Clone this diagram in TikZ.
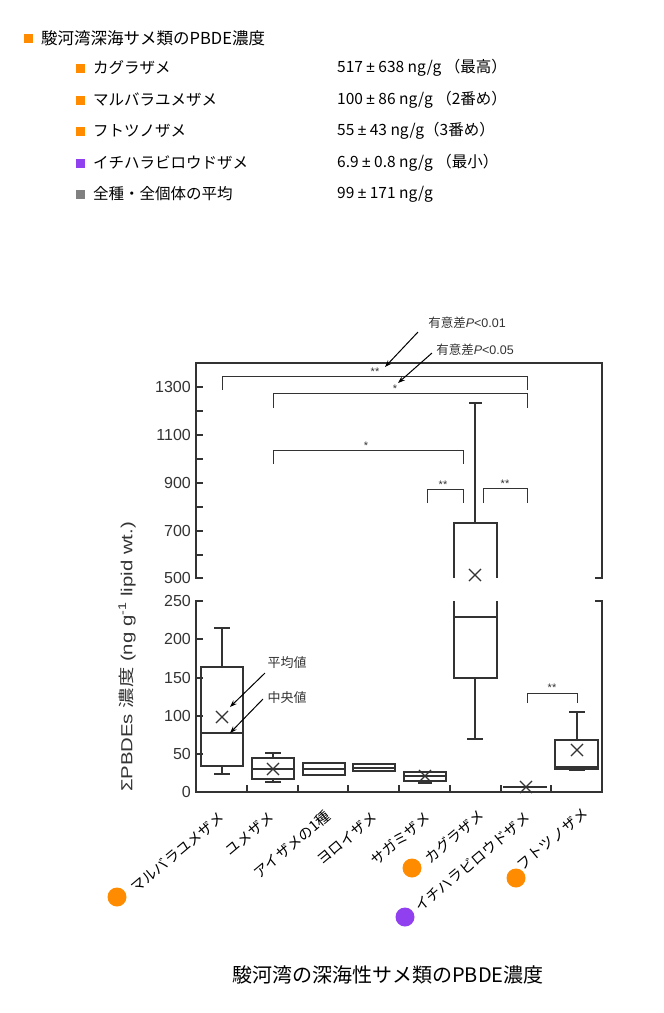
\documentclass[tikz,border=0pt]{standalone}
\usepackage{fontspec}
\usepackage{graphicx}
\setmainfont{Liberation Sans}
\newfontfamily\jp{Noto Sans CJK JP}
\newfontfamily\lat{Liberation Sans}
\usetikzlibrary{arrows.meta,shapes.misc}
\definecolor{ink}{HTML}{333333}
\definecolor{orng}{HTML}{FF8C00}
\definecolor{purp}{HTML}{9140F0}
\definecolor{gry}{HTML}{808080}
\newcommand{\pmx}{{\lat ±}}
\begin{document}
\begin{tikzpicture}[x=1pt,y=-1pt,
  ln/.style={draw=ink,line width=1.1pt},
  brk/.style={draw=ink,line width=0.9pt},
  ticklab/.style={font=\fontsize{16}{18}\selectfont,text=ink,anchor=east,inner sep=0pt},
  sig/.style={font=\fontsize{11}{12}\selectfont,text=ink,inner sep=0pt},
  note/.style={font=\jp\fontsize{12.5}{15}\selectfont,text=ink,inner sep=1pt},
  arr/.style={draw=black,line width=1pt,-{Stealth[length=7pt,width=5pt]}},
  xl/.style={font=\jp\fontsize{14.5}{16}\selectfont,text=black,rotate=40,anchor=north east,inner sep=0pt},
  dot/.style={circle,inner sep=0pt,minimum size=19pt},
  lsq/.style={inner sep=0pt,minimum size=9pt},
  leg/.style={font=\jp\fontsize{15.5}{18}\selectfont,text=black,anchor=west,inner sep=0pt},
  xm/.style={cross out,draw=ink,line width=1.1pt,minimum size=11pt,inner sep=0pt}
]
\useasboundingbox (0,0) rectangle (664,1013);

% ---------- legend ----------
\node[lsq,fill=orng] (s0) at (28.5,38.5) {};
\node[leg,font=\jp\fontsize{16.5}{19}\selectfont] (t0) at (41,38) {駿河湾深海サメ類のPBDE濃度};
\node[lsq,fill=orng] (s1) at (80.5,68) {};
\node[leg] (t1) at (93,68) {カグラザメ};
\node[leg] (v1) at (337,68) {517 \pmx{} 638 ng/g （最高）};
\node[lsq,fill=orng] (s2) at (80.5,100) {};
\node[leg] (t2) at (93,100) {マルバラユメザメ};
\node[leg] (v2) at (337,100) {100 \pmx{} 86 ng/g （2番め）};
\node[lsq,fill=orng] (s3) at (80.5,131) {};
\node[leg] (t3) at (93,131) {フトツノザメ};
\node[leg] (v3) at (337,131) {55 \pmx{} 43 ng/g（3番め）};
\node[lsq,fill=purp] (s4) at (80.5,163) {};
\node[leg] (t4) at (93,163) {イチハラビロウドザメ};
\node[leg] (v4) at (337,163) {6.9 \pmx{} 0.8 ng/g （最小）};
\node[lsq,fill=gry] (s5) at (80.5,194) {};
\node[leg] (t5) at (93,194) {全種・全個体の平均};
\node[leg] (v5) at (337,194) {99 \pmx{} 171 ng/g};

% ---------- frames ----------
\draw[ln] (203,578) -- (196,578) -- (196,363) -- (602,363) -- (602,578) -- (595,578);
\draw[ln] (203,601) -- (196,601) -- (196,792) -- (602,792) -- (602,601) -- (595,601);
\foreach \y in {387,411,435,459,483,507,531,555} \draw[ln] (196,\y) -- (203,\y);
\foreach \y in {639,678,716,754} \draw[ln] (196,\y) -- (203,\y);
\foreach \x in {247,298,348,399,450,501,551} \draw[ln] (\x,792) -- (\x,785);

\node[ticklab] (l1300) at (191,387) {1300};
\node[ticklab] (l1100) at (191,435) {1100};
\node[ticklab] (l900) at (191,483) {900};
\node[ticklab] (l700) at (191,531) {700};
\node[ticklab] (l500) at (191,578) {500};
\node[ticklab] (l250) at (191,601) {250};
\node[ticklab] (l200) at (191,639) {200};
\node[ticklab] (l150) at (191,678) {150};
\node[ticklab] (l100) at (191,716) {100};
\node[ticklab] (l50) at (191,754) {50};
\node[ticklab] (l0) at (191,792) {0};

\node[rotate=90,text=ink,inner sep=0pt] (ytitle) at (127,657)
  {\scalebox{1.27}[1]{\fontsize{16}{18}\selectfont ΣPBDEs {\jp 濃度} (ng g\textsuperscript{-1} lipid wt.)}};

% ---------- boxes ----------
\draw[ln] (201,667) rectangle (243,766);
\draw[ln] (201,733) -- (243,733);
\draw[ln] (222,667) -- (222,628) (214,628) -- (230,628);
\draw[ln] (222,766) -- (222,774) (214,774) -- (230,774);
\node[xm] (m1) at (222,717) {};
\draw[ln] (252,758) rectangle (294,779);
\draw[ln] (252,769) -- (294,769);
\draw[ln] (273,758) -- (273,753) (265,753) -- (281,753);
\draw[ln] (273,779) -- (273,782) (265,782) -- (281,782);
\node[xm] (m2) at (273,769) {};
\draw[ln] (303,763) rectangle (345,775);
\draw[ln] (303,769) -- (345,769);
\draw[ln] (353,764) rectangle (395,771);
\draw[ln] (353,768) -- (395,768);
\draw[ln] (404,772) rectangle (446,781);
\draw[ln] (404,776) -- (446,776);
\draw[ln] (425,781) -- (425,783) (418,783) -- (432,783);
\node[xm] (m5) at (425,776) {};
\draw[ln] (454,578) -- (454,523) -- (497,523) -- (497,578);
\draw[ln] (475,523) -- (475,403) (469,403) -- (482,403);
\node[xm] (m6) at (475,575) {};
\draw[ln] (454,601) -- (454,678) -- (497,678) -- (497,601);
\draw[ln] (454,617) -- (497,617);
\draw[ln] (475,678) -- (475,739) (467,739) -- (483,739);
\draw[draw=ink,line width=2.6pt] (503,787) -- (547,787);
\node[xm] (m7) at (526,787) {};
\draw[ln] (555,740) rectangle (598,769);
\draw[ln] (555,767) -- (598,767);
\draw[ln] (577,740) -- (577,712) (569,712) -- (585,712);
\draw[ln] (569,770) -- (585,770);
\node[xm] (m8) at (577,750) {};

% ---------- significance brackets ----------
\draw[brk] (222,390) -- (222,376) -- (527,376) -- (527,390);
\node[sig] (g1) at (375,372) {**};
\draw[brk] (273,408) -- (273,393) -- (527,393) -- (527,408);
\node[sig] (g2) at (395,389) {*};
\draw[brk] (273,464) -- (273,450) -- (463,450) -- (463,464);
\node[sig] (g3) at (366,446) {*};
\draw[brk] (427,503) -- (427,489) -- (463,489) -- (463,503);
\node[sig] (g4) at (443,485) {**};
\draw[brk] (483,503) -- (483,488) -- (527,488) -- (527,503);
\node[sig] (g5) at (505,484) {**};
\draw[brk] (527,703) -- (527,693) -- (577,693) -- (577,703);
\node[sig] (g6) at (552,688) {**};

% ---------- annotations ----------
\node[note] (n1) at (467,323) {有意差{\lat\itshape P}{\lat <0.01}};
\node[note] (n2) at (475,350) {有意差{\lat\itshape P}{\lat <0.05}};
\coordinate (n1s) at (418,332);
\coordinate (n1e) at (385,367);
\coordinate (n2s) at (432,353);
\coordinate (n2e) at (398,383);
\draw[arr] (n1s) -- (n1e);
\draw[arr] (n2s) -- (n2e);

\node[note,font=\jp\fontsize{13}{15}\selectfont] (n3) at (287,663) {平均値};
\node[note,font=\jp\fontsize{13}{15}\selectfont] (n4) at (287,698) {中央値};
\coordinate (n3s) at (265,673);
\coordinate (n3e) at (230,707);
\coordinate (n4s) at (263,699);
\coordinate (n4e) at (230,733);
\draw[arr] (n3s) -- (n3e);
\draw[arr] (n4s) -- (n4e);

% ---------- x labels ----------
\node[xl] (x1) at (218,810) {マルバラユメザメ};
\node[xl] (x2) at (268,810) {ユメザメ};
\node[xl] (x3) at (324,809) {アイザメの1種};
\node[xl] (x4) at (371,810) {ヨロイザメ};
\node[xl] (x5) at (424,810) {サガミザメ};
\node[xl] (x6) at (478,808) {カグラザメ};
\node[xl] (x7) at (524,810) {イチハラビロウドザメ};
\node[xl] (x8) at (582,806) {フトツノザメ};

\node[dot,fill=orng] (d1) at (117,897) {};
\node[dot,fill=orng] (d6) at (412,868) {};
\node[dot,fill=purp] (d7) at (405,917) {};
\node[dot,fill=orng] (d8) at (516,878) {};

% ---------- caption ----------
\node[font=\jp\fontsize{20}{23}\selectfont,text=black,inner sep=0pt] (cap) at (388,975) {駿河湾の深海性サメ類のPBDE濃度};
\end{tikzpicture}
\end{document}
